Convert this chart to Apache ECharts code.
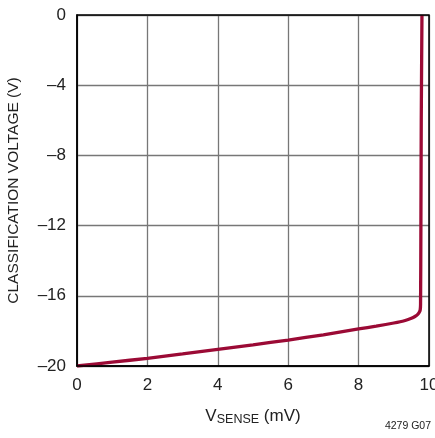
<!DOCTYPE html>
<html>
<head>
<meta charset="utf-8">
<script src="https://cdn.jsdelivr.net/npm/echarts@6/dist/echarts.min.js"></script>
<style>html,body{margin:0;padding:0;background:#fff;}#c{width:435px;height:438px;}</style>
</head>
<body>
<div id="c"></div>
<script>
const xTicks = [0, 2, 4, 6, 8, 10];
const yTicks = [0, -4, -8, -12, -16, -20];
const vsense = [0, 1, 2, 3, 4, 5, 6, 7, 8, 8.5, 9, 9.3, 9.5, 9.6, 9.68, 9.72, 9.75, 9.76, 9.77, 9.78, 9.8];
const classV = [-20, -19.78, -19.56, -19.31, -19.05, -18.79, -18.52, -18.22, -17.89, -17.73, -17.55, -17.42, -17.28, -17.18, -17.06, -16.95, -16.8, -16.5, -12, -6, 0];

const FONT = '"Liberation Sans", Arial, sans-serif';
const chart = echarts.init(document.getElementById('c'));
chart.setOption({
  animation: false,
  grid: { left: 77, top: 15, right: 6, bottom: 72, containLabel: false, outerBoundsMode: 'none' },
  xAxis: {
    type: 'value', min: 0, max: 10, interval: 2,
    name: '{v|V}{s|SENSE}{v| (mV)}',
    nameLocation: 'middle', nameGap: 40,
    nameTextStyle: {
      rich: {
        v: { fontFamily: FONT, fontSize: 17, color: '#222' },
        s: { fontFamily: FONT, fontSize: 12.5, color: '#222', padding: [7, 0, 0, 0] }
      }
    },
    axisLine: { show: true, onZero: false, lineStyle: { color: '#000', width: 1.5 } },
    axisTick: { show: false },
    axisLabel: { fontFamily: FONT, fontSize: 17, color: '#222', margin: 11 },
    splitLine: { show: true, lineStyle: { color: '#777', width: 1.3 } }
  },
  yAxis: {
    type: 'value', min: -20, max: 0, interval: 4,
    name: 'CLASSIFICATION VOLTAGE (V)',
    nameLocation: 'middle', nameGap: 55,
    nameTextStyle: { fontFamily: FONT, fontSize: 15.5, color: '#222' },
    axisLine: { show: true, onZero: false, lineStyle: { color: '#000', width: 1.5 } },
    axisTick: { show: false },
    axisLabel: { fontFamily: FONT, fontSize: 17, color: '#222', margin: 11,
      formatter: v => String(v).replace('-', '\u2013') },
    splitLine: { show: true, lineStyle: { color: '#777', width: 1.3 } }
  },
  graphic: [
    { type: 'rect', shape: { x: 77, y: 15, width: 352, height: 351 }, style: { fill: 'none', stroke: '#000', lineWidth: 1.5 }, z: 10, silent: true },
    { type: 'text', right: 4, top: 421, style: { text: '4279 G07', fontFamily: FONT, fontSize: 10.5, fill: '#222' } }
  ],
  series: [{
    type: 'line',
    data: vsense.map((x, i) => [x, classV[i]]),
    showSymbol: false,
    smooth: 0.3,
    lineStyle: { color: '#9b0a35', width: 3.3 },
    z: 5
  }]
});
</script>
</body>
</html>
